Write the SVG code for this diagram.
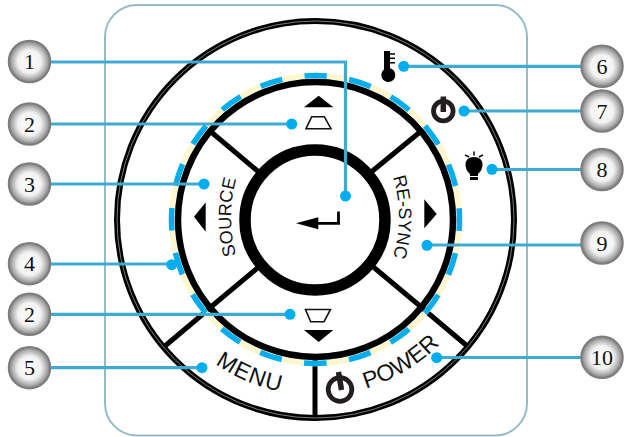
<svg xmlns="http://www.w3.org/2000/svg" width="624" height="437" viewBox="0 0 624 437">
<style>
.lbl{font-family:"Liberation Sans",Arial,sans-serif;fill:#111}
.num{font-family:"Liberation Serif","Times New Roman",serif;font-size:22px;fill:#111;text-anchor:middle}
.badge{fill:url(#bg);stroke:#7d7d7d;stroke-width:1.5}
.lead{fill:none;stroke:#3fabd3;stroke-width:3.2}
.dot{fill:#00aeef}
.sp{stroke:#000;stroke-width:5;fill:none}
.ic{fill:#000;stroke:none}
.tr{fill:#fff;stroke:#111;stroke-width:1.6}
.pw{fill:none;stroke:#231f20}
</style>
<defs>
<radialGradient id="bg" cx="50%" cy="50%" r="50%">
<stop offset="0" stop-color="#fff"/><stop offset="0.55" stop-color="#f2f2f2"/><stop offset="0.85" stop-color="#a8a8a8"/><stop offset="1" stop-color="#707070"/>
</radialGradient>
<path id="pSrc" d="M245 279.500A148 148 0 0 1 245 154.500"/>
<path id="pSync" d="M386.500 161A133 133 0 0 1 386.500 273"/>
<path id="pMenu" d="M175.200 325.300A175 175 0 0 0 336.300 393.700"/>
<path id="pPow" d="M318 396A176 176 0 0 0 468.900 305.300"/>
</defs>
<rect id="frame" x="105" y="5" width="422" height="430.500" rx="32" fill="#fff" stroke="#94bcc4" stroke-width="2"/>
<g id="dial">
<circle cx="315.500" cy="219.500" r="198.500" fill="#fff" stroke="#000" stroke-width="6"/>
<circle cx="315.500" cy="219.500" r="198.500" fill="none" stroke="#ccc" stroke-width="0.6"/>
<g class="sp"><path d="M210 131L260 173M420 132L370 173M260 266L165 346M371 265L466 345M315 360V417"/></g>
<circle cx="315.500" cy="219.500" r="144" fill="none" stroke="#fdf7cf" stroke-width="5.500"/>
<circle cx="315.500" cy="219.500" r="144" fill="none" stroke="#00aeef" stroke-width="5.500" stroke-dasharray="22.620 22.620" stroke-dashoffset="11.310" transform="rotate(-90 315.500 219.500)"/>
<circle cx="315.500" cy="219.500" r="137.500" fill="#fff" stroke="#000" stroke-width="6.500"/>
<g class="sp"><path d="M210 131L260 173M420 132L370 173M260 266L212 306M371 265L420 306"/></g>
<circle cx="315" cy="220" r="70" fill="#fff" stroke="#000" stroke-width="11.500"/>
</g>
<g id="enter"><path class="ic" d="M296 223.300L318.300 217.300V229.300Z"/><path d="M318 223.300H338.500V211.500" fill="none" stroke="#000" stroke-width="2.800"/></g>
<g id="up"><path class="ic" d="M304 107.300H333.300L318.700 95.700Z"/><path class="tr" d="M306 128.700H331L324.300 116.700H311.700Z"/></g>
<g id="down"><path class="tr" d="M305.500 309.500H330.500L324 321.700H310.700Z"/><path class="ic" d="M304 330H333.300L318.700 342Z"/></g>
<g id="source"><path class="ic" d="M194 216.700L205.700 202.300V231.700Z"/><text class="lbl" font-size="18"><textPath href="#pSrc" startOffset="50%" text-anchor="middle">SOURCE</textPath></text></g>
<g id="resync"><path class="ic" d="M424.300 199.300V228.300L436.700 214Z"/><text class="lbl" font-size="18"><textPath href="#pSync" startOffset="50%" text-anchor="middle">RE-SYNC</textPath></text></g>
<g id="menu"><text class="lbl" font-size="23" letter-spacing="1"><textPath href="#pMenu" startOffset="50%" text-anchor="middle">MENU</textPath></text></g>
<g id="power"><circle class="pw" cx="340" cy="389.500" r="11.800" stroke-width="4.800"/><path d="M338.500 372L341.500 390" stroke="#231f20" stroke-width="5.500"/><text class="lbl" font-size="23"><textPath href="#pPow" startOffset="50%" text-anchor="middle">POWER</textPath></text></g>
<g id="temp"><rect class="ic" x="384" y="51" width="6" height="22"/><circle class="ic" cx="388.300" cy="75" r="7"/><path d="M390 54H395M390 58.300H395M390 62.700H395" stroke="#000" stroke-width="1.500"/></g>
<g id="lamp"><circle class="pw" cx="443.300" cy="111" r="9.800" stroke-width="4.800"/><path d="M443.300 96.500V112" stroke="#231f20" stroke-width="5.500"/></g>
<g id="bulb"><path class="ic" d="M465.500 165Q465.500 157 474 157Q482.500 157 482.500 165Q482.500 170 478 174V176H470V174Q465.500 170 465.500 165Z"/><rect class="ic" x="470" y="177" width="8" height="3"/><path d="M474 151.500V155.500M465 154.800L469 157M483 154.800L479 157" stroke="#000" stroke-width="1.500"/></g>
<g id="connectors">
<path class="lead" d="M51 62H345.500V196"/>
<path class="lead" d="M51 124H292"/>
<path class="lead" d="M51 184H204"/>
<path class="lead" d="M51 264H172"/>
<path class="lead" d="M51 314.300H290"/>
<path class="lead" d="M51 367.700H202"/>
<path class="lead" d="M581 66.300H404"/>
<path class="lead" d="M581 111H464"/>
<path class="lead" d="M581 169.500H492"/>
<path class="lead" d="M581 245H427"/>
<path class="lead" d="M581 357.500H437"/>
<circle class="dot" cx="345.500" cy="196" r="5.500"/>
<circle class="dot" cx="291.700" cy="124" r="5.500"/>
<circle class="dot" cx="204" cy="184" r="5.500"/>
<circle class="dot" cx="171.700" cy="264.700" r="5.500"/>
<circle class="dot" cx="290" cy="314.300" r="5.500"/>
<circle class="dot" cx="202" cy="367.700" r="5.500"/>
<circle class="dot" cx="403.700" cy="66.300" r="5.500"/>
<circle class="dot" cx="464" cy="111" r="5.500"/>
<circle class="dot" cx="492" cy="169.300" r="5.500"/>
<circle class="dot" cx="427" cy="245.300" r="5.500"/>
<circle class="dot" cx="436.700" cy="357.700" r="5.500"/>
</g>
<g id="n1"><circle class="badge" cx="29.500" cy="61.500" r="21"/><text class="num" x="29.500" y="69">1</text></g>
<g id="n2a"><circle class="badge" cx="29.500" cy="124" r="21"/><text class="num" x="29.500" y="131.500">2</text></g>
<g id="n3"><circle class="badge" cx="29.500" cy="184" r="21"/><text class="num" x="29.500" y="191.500">3</text></g>
<g id="n4"><circle class="badge" cx="29.500" cy="263.700" r="21"/><text class="num" x="29.500" y="271.200">4</text></g>
<g id="n2b"><circle class="badge" cx="29.500" cy="314.300" r="21"/><text class="num" x="29.500" y="321.800">2</text></g>
<g id="n5"><circle class="badge" cx="29.500" cy="367.700" r="21"/><text class="num" x="29.500" y="375.200">5</text></g>
<g id="n6"><circle class="badge" cx="602" cy="66.300" r="21"/><text class="num" x="602" y="73.800">6</text></g>
<g id="n7"><circle class="badge" cx="602" cy="111" r="21"/><text class="num" x="602" y="118.500">7</text></g>
<g id="n8"><circle class="badge" cx="602" cy="169.500" r="21"/><text class="num" x="602" y="177">8</text></g>
<g id="n9"><circle class="badge" cx="602" cy="243" r="21"/><text class="num" x="602" y="250.500">9</text></g>
<g id="n10"><circle class="badge" cx="602" cy="357.300" r="21"/><text class="num" x="602" y="364.800">10</text></g>
</svg>
